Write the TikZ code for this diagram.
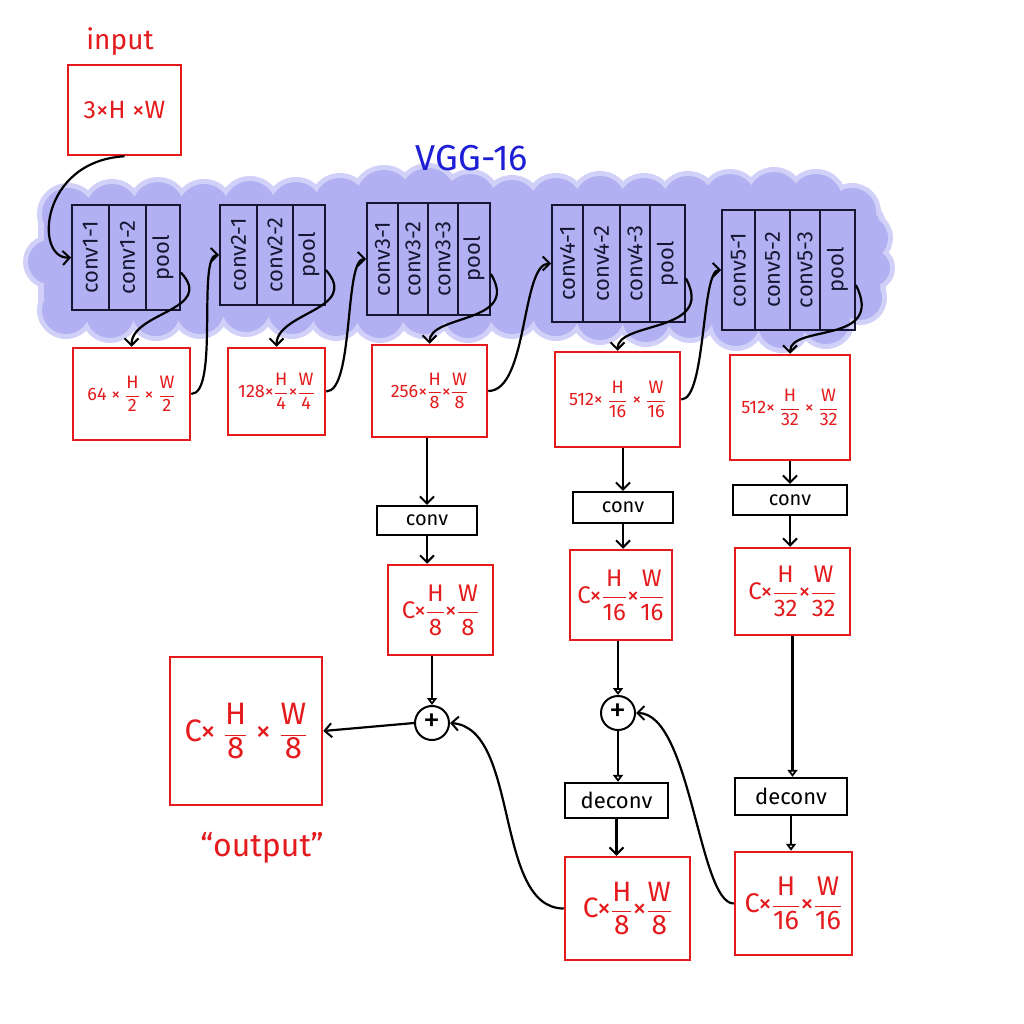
\documentclass[tikz,border=0pt]{standalone}
\usepackage{fontspec}
\setmainfont{Fira Sans}
\usetikzlibrary{arrows.meta,calc}
\definecolor{sketchred}{RGB}{228,26,28}
\definecolor{vggblue}{RGB}{30,30,215}
\definecolor{haze}{RGB}{176,176,242}
\definecolor{hazeedge}{RGB}{208,208,248}
\definecolor{ink}{RGB}{22,22,50}
% stacked fraction set in the text font
\newcommand\fr[2]{$\displaystyle\frac{\mbox{#1}}{\mbox{#2}}$}
\tikzset{
  redbox/.style={draw=sketchred, line width=2.5pt, text=sketchred, inner sep=0pt, align=center},
  opbox/.style={draw=black, line width=2.3pt, inner sep=0pt, font=\fontsize{20}{22}\selectfont},
  cell/.style={draw=ink, line width=1.8pt, inner sep=0pt, text=ink, font=\fontsize{22}{24}\selectfont},
  plusnode/.style={draw=black, line width=2pt, circle, minimum size=34pt, inner sep=0pt, font=\fontsize{34}{34}\selectfont},
  conn/.style={draw=black, line width=2.2pt, -{Straight Barb[length=7pt,width=14pt,line width=2pt]}},
  connt/.style={draw=black, line width=2.2pt, -{Triangle[open,length=7pt,width=10pt,line width=1.8pt]}},
  small/.style={font=\fontsize{18}{20}\selectfont},
  mid/.style={font=\fontsize{24}{26}\selectfont},
  large/.style={font=\fontsize{31}{34}\selectfont}
}
% the marker wash: a list of blobs, drawn enlarged in a pale tone and then in the main tone
\newcommand\washblobs{68/214/26, 112/210/26, 158/208/26, 204/210/26, 250/207/26, 296/208/26,
  340/204/26, 384/198/28, 428/196/28, 470/200/26, 512/206/26, 556/204/26,
  600/202/26, 644/204/26, 688/202/26, 730/200/26, 774/198/26, 816/200/26, 852/212/24, 866/238/22,
  66/310/24, 110/314/24, 156/312/24, 200/310/24, 246/308/24, 292/310/24, 336/312/24,
  380/314/24, 424/310/24, 468/314/24, 512/310/24, 556/312/24, 600/316/24, 646/318/24,
  690/314/24, 736/322/24, 782/324/24, 826/320/24, 860/298/22, 50/262/22, 872/268/18}
\begin{document}
\begin{tikzpicture}[x=1pt,y=-1pt]
\useasboundingbox (0,0) rectangle (1024,1024);
\fill[white] (0,0) rectangle (1024,1024);

% blue wash behind the VGG-16 layers
\fill[hazeedge, rounded corners=24pt] (38,201) rectangle (886,322);
\foreach \x/\y/\r in \washblobs
  \fill[hazeedge] (\x,\y) circle ({\r+5});
\fill[haze, rounded corners=20pt] (44,206) rectangle (880,317);
\foreach \x/\y/\r in \washblobs
  \fill[haze] (\x,\y) circle (\r);

% title labels
\node[text=sketchred, font=\fontsize{28}{30}\selectfont] (inlab) at (120,42) {input};
\node[text=vggblue, font=\fontsize{36}{38}\selectfont] (vgg) at (472,158) {VGG-16};
\node[text=sketchred, font=\fontsize{32}{34}\selectfont] (outlab) at (262,848) {``output''};

% input tensor
\node[redbox, font=\fontsize{25}{27}\selectfont, minimum width=113pt, minimum height=90pt] (in) at (124.5,110) {3×H ×W};

% block 1
\node[cell, minimum width=37pt, minimum height=105pt] (b1a) at (90.5,257.5) {\rotatebox{90}{conv1-1}};
\node[cell, minimum width=37pt, minimum height=105pt] (b1b) at (127.5,257.5) {\rotatebox{90}{conv1-2}};
\node[cell, minimum width=34pt, minimum height=105pt] (b1c) at (163,257.5) {\rotatebox{90}{pool}};
% block 2
\node[cell, minimum width=37pt, minimum height=100pt] (b2a) at (238.5,255) {\rotatebox{90}{conv2-1}};
\node[cell, minimum width=36pt, minimum height=100pt] (b2b) at (275,255) {\rotatebox{90}{conv2-2}};
\node[cell, minimum width=32pt, minimum height=100pt] (b2c) at (309,255) {\rotatebox{90}{pool}};
% block 3
\node[cell, minimum width=31pt, minimum height=112pt] (b3a) at (382.5,259) {\rotatebox{90}{conv3-1}};
\node[cell, minimum width=30pt, minimum height=112pt] (b3b) at (413,259) {\rotatebox{90}{conv3-2}};
\node[cell, minimum width=30pt, minimum height=112pt] (b3c) at (443,259) {\rotatebox{90}{conv3-3}};
\node[cell, minimum width=32pt, minimum height=112pt] (b3d) at (474,259) {\rotatebox{90}{pool}};
% block 4
\node[cell, minimum width=31pt, minimum height=117pt] (b4a) at (567.5,263.5) {\rotatebox{90}{conv4-1}};
\node[cell, minimum width=37pt, minimum height=117pt] (b4b) at (601.5,263.5) {\rotatebox{90}{conv4-2}};
\node[cell, minimum width=30pt, minimum height=117pt] (b4c) at (635,263.5) {\rotatebox{90}{conv4-3}};
\node[cell, minimum width=35pt, minimum height=117pt] (b4d) at (667.5,263.5) {\rotatebox{90}{pool}};
% block 5
\node[cell, minimum width=33pt, minimum height=120pt] (b5a) at (738.5,270) {\rotatebox{90}{conv5-1}};
\node[cell, minimum width=35pt, minimum height=120pt] (b5b) at (772.5,270) {\rotatebox{90}{conv5-2}};
\node[cell, minimum width=30pt, minimum height=120pt] (b5c) at (805,270) {\rotatebox{90}{conv5-3}};
\node[cell, minimum width=35pt, minimum height=120pt] (b5d) at (837.5,270) {\rotatebox{90}{pool}};

% feature maps after each block
\node[redbox, small, minimum width=117pt, minimum height=92pt] (r1) at (131.5,394) {64 × \fr{H}{2} × \fr{W}{2}};
\node[redbox, small, minimum width=97pt, minimum height=87pt] (r2) at (276.5,391.5) {128×\fr{H}{4}×\fr{W}{4}};
\node[redbox, small, minimum width=115pt, minimum height=92pt] (r3) at (429.5,391) {256×\fr{H}{8}×\fr{W}{8}};
\node[redbox, small, minimum width=125pt, minimum height=95pt] (r4) at (617.5,399.5) {512× \fr{H}{16} × \fr{W}{16}};
\node[redbox, small, minimum width=120pt, minimum height=105pt] (r5) at (790,407.5) {512× \fr{H}{32} × \fr{W}{32}};

% score layers
\node[opbox, minimum width=100pt, minimum height=29pt] (c3) at (427,520.5) {conv};
\node[opbox, minimum width=100pt, minimum height=31pt] (c4) at (623,507.5) {conv};
\node[opbox, minimum width=114pt, minimum height=30pt] (c5) at (790,500) {conv};

\node[redbox, mid, minimum width=105pt, minimum height=90pt] (f3) at (440.5,610) {C×\fr{H}{8}×\fr{W}{8}};
\node[redbox, mid, minimum width=102pt, minimum height=90pt] (f4) at (621,595) {C×\fr{H}{16}×\fr{W}{16}};
\node[redbox, mid, minimum width=115pt, minimum height=87pt] (f5) at (792.5,591.5) {C×\fr{H}{32}×\fr{W}{32}};

% fusion
\node[plusnode] (p3) at (432,723) {+};
\node[plusnode] (p4) at (618,713) {+};

\node[opbox, font=\fontsize{22}{24}\selectfont, minimum width=103pt, minimum height=35pt] (d4) at (616.5,800.5) {deconv};
\node[opbox, font=\fontsize{22}{24}\selectfont, minimum width=112pt, minimum height=37pt] (d5) at (791,796.5) {deconv};

\node[redbox, font=\fontsize{28}{30}\selectfont, minimum width=125pt, minimum height=103pt] (b4) at (627.5,908.5) {C×\fr{H}{8}×\fr{W}{8}};
\node[redbox, font=\fontsize{27}{29}\selectfont, minimum width=117pt, minimum height=103pt] (b5) at (793.5,903.5) {C×\fr{H}{16}×\fr{W}{16}};

% output
\node[redbox, large, minimum width=152pt, minimum height=148pt] (out) at (246,731) {C× \fr{H}{8} × \fr{W}{8}};

% backbone connectors
\draw[conn] (in.south) .. controls +(-85,5) and +(-37,2) .. (b1a.west);
\draw[conn] ([yshift=-15pt]b1c.east) .. controls +(35,38) and +(0,-35) .. (r1.north);
\draw[conn] (r1.east) .. controls +(28,0) and +(-22,0) .. (b2a.west);
\draw[conn] ([yshift=-15pt]b2c.east) .. controls +(35,40) and +(0,-35) .. (r2.north);
\draw[conn] (r2.east) .. controls +(28,0) and +(-22,0) .. (b3a.west);
\draw[conn] ([yshift=-15pt]b3d.east) .. controls +(30,50) and +(0,-30) .. (r3.north);
\draw[conn] (r3.east) .. controls +(40,0) and +(-30,0) .. (b4a.west);
\draw[conn] ([yshift=-15pt]b4d.east) .. controls +(30,55) and +(0,-30) .. (r4.north);
\draw[conn] (r4.east) .. controls +(25,0) and +(-20,0) .. (b5a.west);
\draw[conn] ([yshift=-15pt]b5d.east) .. controls +(30,60) and +(0,-30) .. (r5.north);

% stride 8 branch
\draw[conn] (c3.north |- r3.south) -- (c3.north);
\draw[conn] (c3.south) -- (c3.south |- f3.north);
\draw[connt] (p3.north |- f3.south) -- (p3.north);
\draw[conn] (p3.west) -- (out.east);

% stride 16 branch
\draw[conn] (c4.north |- r4.south) -- (c4.north);
\draw[conn] (c4.south) -- (c4.south |- f4.north);
\draw[connt] (p4.north |- f4.south) -- (p4.north);
\draw[connt] (p4.south) -- (p4.south |- d4.north);
\draw[conn] (d4.south) -- (d4.south |- b4.north);

% stride 32 branch
\draw[conn] (c5.north |- r5.south) -- (c5.north);
\draw[conn] (c5.south) -- (c5.south |- f5.north);
\draw[connt] (f5.south) -- (f5.south |- d5.north);
\draw[connt] (d5.south) -- (d5.south |- b5.north);

% upsampled maps fed back into the sums
\draw[conn] (b4.west) .. controls +(-70,0) and +(70,5) .. (p3.east);
\draw[conn] (b5.west) .. controls +(-35,0) and +(55,0) .. (p4.east);
\end{tikzpicture}
\end{document}
